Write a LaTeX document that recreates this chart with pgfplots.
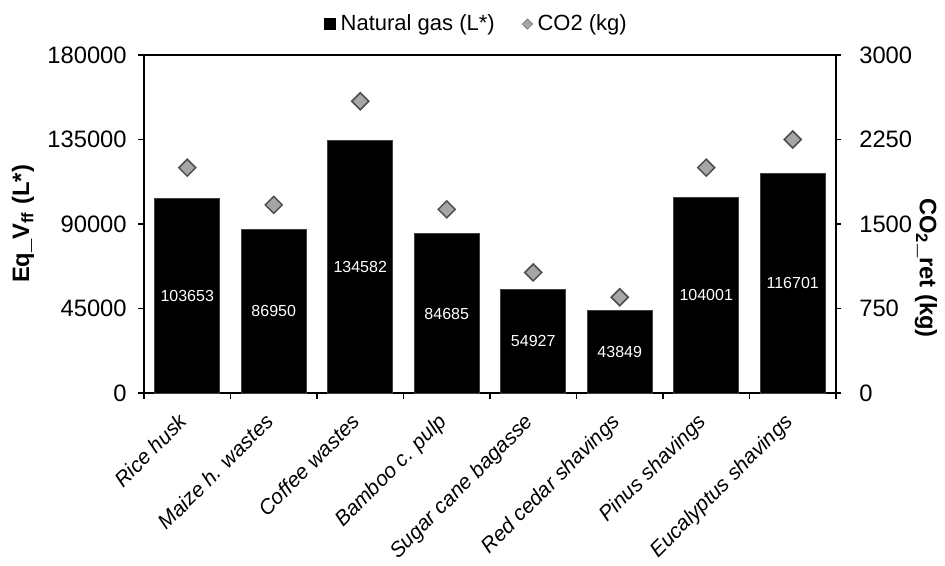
\documentclass[border=0pt]{standalone}
\usepackage{fontspec}
\setmainfont{Liberation Sans}
\usepackage{pgfplots}
\usepackage{pgfplotstable}
\pgfplotsset{compat=1.18}

\definecolor{diafill}{HTML}{A6A6A6}
\definecolor{diaedge}{HTML}{4D4D4D}

% natural gas equivalent (L*) and CO2 retained (kg) per residue
\pgfplotstableread{
x gas co2
0 103653 2000
1 86950 1670
2 134582 2590
3 84685 1630
4 54927 1070
5 43849 850
6 104001 2000
7 116701 2250
}\biomass

\begin{document}
\begin{tikzpicture}
% page frame: 945x565 px at 2.5 px/pt, plot box at (144,393) px
\useasboundingbox (-57.6pt,-68.8pt) rectangle (320.4pt,157.2pt);
\pgfplotsset{every axis/.append style={
    scale only axis, width=276.8pt, height=135.2pt,
    xmin=-0.5, xmax=7.5,
    axis line style={line width=0.5pt},
    tick style={line width=0.5pt, black},
    tick align=outside, major tick length=2.2pt,
    /pgf/number format/assume math mode=true,
    /pgf/number format/fixed,
    /pgf/number format/precision=0,
    /pgf/number format/1000 sep={},
    scaled y ticks=false,
    tick label style={font=\fontsize{9.5}{11}\selectfont},
    label style={font=\bfseries\fontsize{9.5}{11}\selectfont},
}}
\begin{axis}[
    ymin=0, ymax=180000, ytick={0,45000,...,180000},
    ytick pos=left, xtick pos=bottom,
    yticklabel style={xshift=-1.2pt},
    xtick={-0.5,0.5,...,7.5}, xticklabels={},
    extra x ticks={0,...,7},
    extra x tick labels={Rice husk, Maize h. wastes, Coffee wastes, Bamboo c. pulp,
        Sugar cane bagasse, Red cedar shavings, Pinus shavings, Eucalyptus shavings},
    extra x tick style={major tick length=0pt,
        tick label style={rotate=45, anchor=north east, inner sep=1pt,
            xshift=-7pt, yshift=-1.5pt,
            font=\itshape\fontsize{8.4}{10}\selectfont}},
    ylabel={Eq\_V\textsubscript{ff} (L*)},
    ylabel style={at={(axis description cs:-0.175,0.5)}, anchor=center},
]
\addplot[ybar, bar width=0.75, bar shift=0pt, fill=black, draw=black!75, line width=0.4pt]
    table[x=x, y=gas] {\biomass};
\addplot[draw=none, mark=none, nodes near coords, point meta=explicit symbolic,
    nodes near coords style={anchor=center, text=white, font=\fontsize{6.4}{8}\selectfont}]
    table[x=x, y expr=\thisrow{gas}/2, meta=gas] {\biomass};
\end{axis}
\begin{axis}[
    ymin=0, ymax=3000, ytick={0,750,...,3000},
    axis y line*=right, axis x line=none, axis line style={-},
    yticklabel style={xshift=3.6pt},
    ylabel={CO\textsubscript{2}\_ret (kg)},
    ylabel style={at={(axis description cs:1.13,0.37)}, anchor=center, rotate=180},
    legend image code/.code={\draw[#1] plot coordinates {(0cm,0cm)};},
    legend style={at={(0.483,1)}, anchor=center, yshift=12.4pt, draw=none,
        legend columns=2, font=\fontsize{8.8}{10}\selectfont,
        nodes={inner xsep=2pt},
        /tikz/every even column/.append style={column sep=9pt}},
]
\addlegendimage{only marks, mark=square*, mark size=2.2pt, black}
\addlegendentry{Natural gas (L*)}
\addlegendimage{only marks, mark=square*, mark size=1.45pt,
    mark options={rotate=45, fill=diafill, draw=diafill!80!black, line width=0.3pt}}
\addlegendentry{CO2 (kg)}
\addplot[only marks, mark=square*, mark size=2.4pt, forget plot,
    mark options={rotate=45, fill=diafill, draw=diaedge, line width=0.6pt}]
    table[x=x, y=co2] {\biomass};
\end{axis}
\end{tikzpicture}
\end{document}
